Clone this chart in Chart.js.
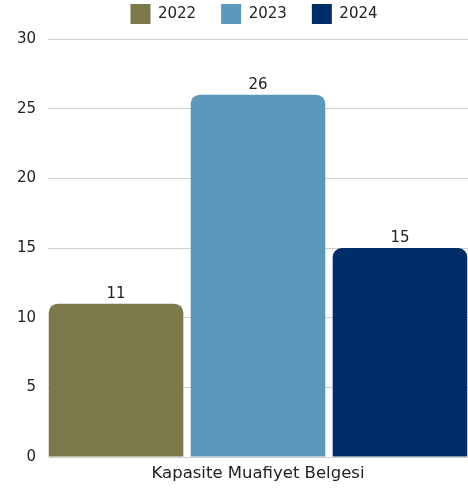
<!DOCTYPE html>
<html>
<head>
<meta charset="utf-8">
<script src="https://cdn.jsdelivr.net/npm/chart.js@4"></script>
<style>
  html, body { margin: 0; padding: 0; background: #fff; }
  #wrap { width: 468px; height: 488px; }
</style>
</head>
<body>
<div id="wrap"><canvas id="chart"></canvas></div>
<script>
// Datos
const categories = ['Kapasite Muafiyet Belgesi'];
const years = ['2022', '2023', '2024'];
const values2022 = [11];
const values2023 = [26];
const values2024 = [15];
const yTicks = [0, 5, 10, 15, 20, 25, 30];

const colors = ['#7b7849', '#5b98bb', '#002e69'];
const FONT = 'DejaVu Sans';
const TEXT = '#222';

// Etiquetas encima de las barras
const barLabels = {
  id: 'barLabels',
  afterDatasetsDraw(chart) {
    const ctx = chart.ctx;
    ctx.save();
    ctx.font = '15px "' + FONT + '"';
    ctx.fillStyle = TEXT;
    ctx.textAlign = 'center';
    ctx.textBaseline = 'alphabetic';
    chart.data.datasets.forEach((ds, i) => {
      chart.getDatasetMeta(i).data.forEach((bar, j) => {
        ctx.fillText(ds.data[j], bar.x, bar.y - 6);
      });
    });
    ctx.restore();
  }
};

// Leyenda: más espacio entre elementos sin ocupar tanta altura
const legendTweak = {
  id: 'legendTweak',
  afterInit(chart) {
    const legend = chart.legend;
    const origFit = legend.fit.bind(legend);
    legend.fit = function () {
      origFit();
      this.height = 39;
    };
  },
  afterLayout(chart) {
    const legend = chart.legend;
    legend.top = -21;
    legend.bottom = 40;
    legend.height = 61;
    legend.left += 20;
    legend.right += 20;
  }
};

new Chart(document.getElementById('chart'), {
  type: 'bar',
  data: {
    labels: categories,
    datasets: [
      { label: years[0], data: values2022, backgroundColor: colors[0] },
      { label: years[1], data: values2023, backgroundColor: colors[1] },
      { label: years[2], data: values2024, backgroundColor: colors[2] }
    ].map(d => ({
      ...d,
      borderRadius: { topLeft: 9, topRight: 9 },
      borderSkipped: 'bottom',
      categoryPercentage: 1.014,
      barPercentage: 0.948
    }))
  },
  options: {
    responsive: true,
    maintainAspectRatio: false,
    animation: false,
    layout: { padding: { left: 0, right: 0, top: 0, bottom: 0 } },
    plugins: {
      legend: {
        position: 'top',
        labels: {
          color: TEXT,
          font: { size: 15, family: FONT },
          boxWidth: 20,
          boxHeight: 20,
          padding: 25
        }
      },
      tooltip: { enabled: false }
    },
    scales: {
      x: {
        afterFit(axis) { axis.height = 31; },
        grid: { display: false, drawTicks: false },
        border: { color: '#d0d0d0' },
        ticks: { color: TEXT, font: { size: 16.5, family: FONT }, padding: 7 }
      },
      y: {
        min: 0,
        max: 30,
        afterBuildTicks(axis) { axis.ticks = yTicks.map(v => ({ value: v })); },
        afterFit(axis) { axis.width = 48; },
        grid: { color: '#d0d0d0', drawTicks: false },
        border: { display: false },
        ticks: { color: TEXT, font: { size: 15, family: FONT }, padding: 12 }
      }
    }
  },
  plugins: [barLabels, legendTweak]
});
</script>
</body>
</html>
